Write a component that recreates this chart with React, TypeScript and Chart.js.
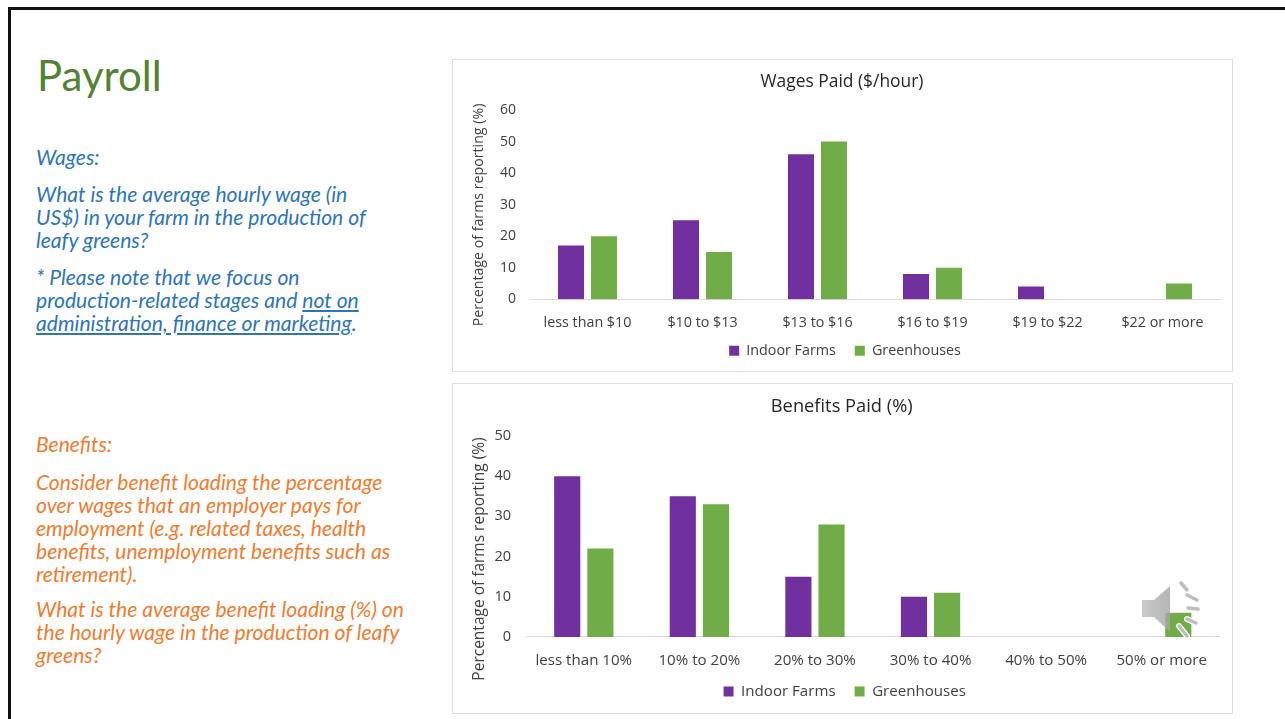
import React, { useEffect, useRef } from "react";
import { Chart, registerables } from "chart.js";

Chart.register(...registerables);

const seriesNames = ["Indoor Farms", "Greenhouses"];
const seriesColors = ["#7030A0", "#70AD47"];

const wageCategories = ["less than $10", "$10 to $13", "$13 to $16", "$16 to $19", "$19 to $22", "$22 or more"];
const wageIndoor = [17, 25, 46, 8, 4, 0];
const wageGreenhouse = [20, 15, 50, 10, 0, 5];

const benefitCategories = ["less than 10%", "10% to 20%", "20% to 30%", "30% to 40%", "40% to 50%", "50% or more"];
const benefitIndoor = [40, 35, 15, 10, 0, 0];
const benefitGreenhouse = [22, 33, 28, 11, 0, 6];

const yAxisLabel = "Percentage of farms reporting (%)";
const CHART_FONT = '"Open Sans", sans-serif';
const BODY_FONT = "Lato, sans-serif";
const INK = "#404040";

type Segment = { text: string; underline?: boolean };
type Line = { y: number; segments: Segment[] };

const blueLines: Line[] = [
  { y: 157, segments: [{ text: "Wages:" }] },
  { y: 194, segments: [{ text: "What is the average hourly wage (in" }] },
  { y: 217, segments: [{ text: "US$) in your farm in the production of" }] },
  { y: 240, segments: [{ text: "leafy greens?" }] },
  { y: 277, segments: [{ text: "* Please note that we focus on" }] },
  { y: 300, segments: [{ text: "production-related stages and " }, { text: "not on", underline: true }] },
  { y: 323, segments: [{ text: "administration, finance or marketing", underline: true }, { text: "." }] },
];

const orangeLines: Line[] = [
  { y: 444, segments: [{ text: "Benefits:" }] },
  { y: 482, segments: [{ text: "Consider benefit loading the percentage" }] },
  { y: 505, segments: [{ text: "over wages that an employer pays for" }] },
  { y: 528, segments: [{ text: "employment (e.g. related taxes, health" }] },
  { y: 551, segments: [{ text: "benefits, unemployment benefits such as" }] },
  { y: 574, segments: [{ text: "retirement)." }] },
  { y: 609, segments: [{ text: "What is the average benefit loading (%) on" }] },
  { y: 632, segments: [{ text: "the hourly wage in the production of leafy" }] },
  { y: 655, segments: [{ text: "greens?" }] },
];

type PanelProps = {
  title: string;
  categories: string[];
  indoor: number[];
  greenhouse: number[];
  yMax: number;
  box: { left: number; top: number; width: number; height: number };
  plot: { left: number; right: number; top: number; bottom: number };
  fonts: { title: number; tick: number; yTick: number; legend: number; axis: number };
  axisLabelX: number;
  axisLabelY: number;
  legendBottom: number;
  legendHeight: number;
  legendGap: number;
  tickGap: number;
  titleShift: number;
  legendShift: number;
};

function BarPanel(props: PanelProps) {
  const ref = useRef<HTMLCanvasElement | null>(null);

  useEffect(() => {
    const {
      title, categories, indoor, greenhouse, yMax, box, plot, fonts,
      axisLabelX, axisLabelY, legendBottom, legendHeight, legendGap, tickGap, titleShift, legendShift,
    } = props;
    const titleTop = 23.5 - fonts.title * 0.6;

    // Nudges the title and legend off-centre, lets the category labels run past
    // the axis box, and paints the axis caption, which sits below the plot's middle.
    const panelDecor = {
      id: "panelDecor",
      afterLayout(chart: any) {
        chart.titleBlock.left += titleShift;
        chart.titleBlock.right += titleShift;
        chart.legend.left += legendShift;
        chart.legend.right += legendShift;
        chart.scales.x.bottom += 14;
      },
      afterDraw(chart: Chart) {
        const { ctx } = chart;
        ctx.save();
        ctx.translate(axisLabelX, axisLabelY);
        ctx.rotate(-Math.PI / 2);
        ctx.font = `${fonts.axis}px ${CHART_FONT}`;
        ctx.fillStyle = INK;
        ctx.textAlign = "center";
        ctx.textBaseline = "middle";
        ctx.fillText(yAxisLabel, 0, 0);
        ctx.restore();
      },
    };

    const chart = new Chart(ref.current as HTMLCanvasElement, {
      type: "bar",
      data: {
        labels: categories,
        datasets: [
          { label: seriesNames[0], data: indoor, backgroundColor: seriesColors[0] },
          { label: seriesNames[1], data: greenhouse, backgroundColor: seriesColors[1] },
        ],
      },
      plugins: [panelDecor],
      options: {
        responsive: false,
        animation: false,
        layout: { padding: { left: 0, right: box.width - plot.right, top: 0, bottom: legendBottom } },
        datasets: { bar: { categoryPercentage: 0.574, barPercentage: 0.788 } },
        plugins: {
          tooltip: { enabled: false },
          title: {
            display: true,
            text: title,
            color: "#262626",
            font: { family: CHART_FONT, size: fonts.title, weight: "normal", lineHeight: 1.2 },
            padding: { top: titleTop, bottom: plot.top - titleTop - fonts.title * 1.2 },
          },
          legend: {
            position: "bottom",
            labels: {
              color: INK,
              font: { family: CHART_FONT, size: fonts.legend },
              boxWidth: 10,
              boxHeight: 10,
              padding: legendGap,
            },
          },
        },
        scales: {
          x: {
            offset: true,
            grid: { display: false },
            border: { display: true, color: "#d9d9d9" },
            ticks: { color: INK, font: { family: CHART_FONT, size: fonts.tick }, padding: 7, maxRotation: 0, autoSkip: false },
            afterFit(scale: any) {
              scale.height = box.height - legendBottom - legendHeight - plot.bottom;
            },
          },
          y: {
            min: 0,
            max: yMax,
            grid: { display: false, drawTicks: false },
            border: { display: false },
            ticks: { stepSize: 10, color: INK, font: { family: CHART_FONT, size: fonts.yTick }, padding: tickGap },
            afterFit(scale: any) {
              scale.width = plot.left;
            },
          },
        },
      },
    } as any);
    return () => chart.destroy();
  }, []);

  const { box } = props;
  return (
    <div
      style={{
        position: "absolute",
        left: box.left,
        top: box.top,
        width: box.width,
        height: box.height,
        boxSizing: "border-box",
        border: "1px solid #dedede",
        background: "#fff",
      }}
    >
      <canvas
        ref={ref}
        width={box.width}
        height={box.height}
        style={{ position: "absolute", left: -1, top: -1, width: box.width, height: box.height }}
      />
    </div>
  );
}

function TextBlock({ lines, color }: { lines: Line[]; color: string }) {
  return (
    <>
      {lines.map((line) => (
        <div
          key={line.y}
          style={{
            position: "absolute",
            left: 36,
            top: line.y - 13,
            height: 26,
            whiteSpace: "pre",
            font: `italic 400 21.1px/26px ${BODY_FONT}`,
            color,
          }}
        >
          {line.segments.map((segment, i) => (
            <span key={i} style={{ textDecoration: segment.underline ? "underline" : "none" }}>
              {segment.text}
            </span>
          ))}
        </div>
      ))}
    </>
  );
}

// Presentation audio marker resting over the last benefits bar.
function SpeakerIcon() {
  const waves = [
    [1181, 583, 1187, 590],
    [1187, 595, 1197, 600],
    [1188, 608, 1198, 609],
    [1187, 619, 1196, 623],
    [1179, 626, 1187, 636],
  ];
  return (
    <svg
      width={80}
      height={70}
      viewBox="1130 575 80 70"
      style={{ position: "absolute", left: 1130, top: 575 }}
    >
      <defs>
        <linearGradient id="coneShade" x1="0" x2="1" y1="0" y2="0">
          <stop offset="0" stopColor="#c8c8c8" stopOpacity="0.95" />
          <stop offset="1" stopColor="#a4a4a4" stopOpacity="0.8" />
        </linearGradient>
      </defs>
      <path d="M1142 600 L1154 600 L1170 586 L1170 632 L1154 617 L1142 617 Z" fill="url(#coneShade)" />
      {waves.map(([x1, y1, x2, y2], i) => (
        <g key={i} strokeLinecap="round">
          <line x1={x1} y1={y1} x2={x2} y2={y2} stroke="#ffffff" strokeWidth={6} />
          <line x1={x1} y1={y1} x2={x2} y2={y2} stroke="#bdbdbd" strokeWidth={3.5} />
        </g>
      ))}
    </svg>
  );
}

export default function App() {
  return (
    <div
      style={{
        position: "absolute",
        left: 0,
        top: 0,
        width: 1285,
        height: 719,
        overflow: "hidden",
        background: "#fff",
      }}
    >
      <div style={{ position: "absolute", left: 8, top: 7, width: 1277, height: 2.5, background: "#111" }} />
      <div style={{ position: "absolute", left: 8, top: 7, width: 2.5, height: 712, background: "#111" }} />
      <div
        style={{
          position: "absolute",
          left: 37,
          top: 45,
          font: `400 42px/60px ${BODY_FONT}`,
          color: "#548235",
        }}
      >
        Payroll
      </div>
      <TextBlock lines={blueLines} color="#2E75B6" />
      <TextBlock lines={orangeLines} color="#ED7D31" />
      <BarPanel
        title="Wages Paid ($/hour)"
        categories={wageCategories}
        indoor={wageIndoor}
        greenhouse={wageGreenhouse}
        yMax={60}
        box={{ left: 452, top: 59, width: 781, height: 313 }}
        plot={{ left: 78, right: 768, top: 51, bottom: 239.5 }}
        fonts={{ title: 17.4, tick: 14.3, yTick: 14, legend: 14.3, axis: 14.2 }}
        axisLabelX={27}
        axisLabelY={156}
        legendBottom={4}
        legendHeight={44}
        legendGap={19}
        tickGap={14}
        titleShift={6}
        legendShift={9}
      />
      <BarPanel
        title="Benefits Paid (%)"
        categories={benefitCategories}
        indoor={benefitIndoor}
        greenhouse={benefitGreenhouse}
        yMax={50}
        box={{ left: 452, top: 383, width: 781, height: 331 }}
        plot={{ left: 74, right: 767.5, top: 53, bottom: 254 }}
        fonts={{ title: 18.3, tick: 15.1, yTick: 14.5, legend: 15.1, axis: 15.5 }}
        axisLabelX={28}
        axisLabelY={176}
        legendBottom={5}
        legendHeight={44}
        legendGap={19}
        tickGap={15}
        titleShift={6}
        legendShift={9}
      />
      <SpeakerIcon />
    </div>
  );
}
